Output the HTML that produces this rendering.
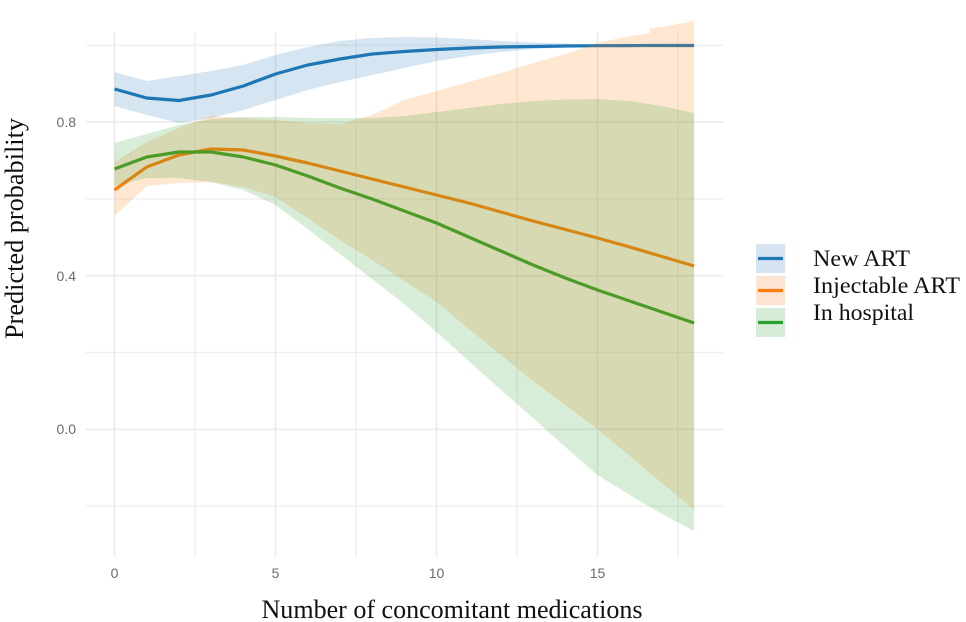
<!DOCTYPE html>
<html>
<head>
<meta charset="utf-8">
<style>
html,body{margin:0;padding:0;background:#fff;}
svg{display:block;}
</style>
</head>
<body>
<svg width="966" height="622" viewBox="0 0 966 622" xmlns="http://www.w3.org/2000/svg">
<rect width="966" height="622" fill="#fff"/>
<!-- minor gridlines -->
<g stroke="#eeeeee" stroke-width="1.3" fill="none">
<line x1="86" y1="506.1" x2="723" y2="506.1"/>
<line x1="86" y1="352.5" x2="723" y2="352.5"/>
<line x1="86" y1="199" x2="723" y2="199"/>
<line x1="86" y1="45.3" x2="723" y2="45.3"/>
<line x1="195" y1="33" x2="195" y2="557"/>
<line x1="356" y1="33" x2="356" y2="557"/>
<line x1="517" y1="33" x2="517" y2="557"/>
<line x1="678" y1="33" x2="678" y2="557"/>
</g>
<!-- major gridlines -->
<g stroke="#ebebeb" stroke-width="1.6" fill="none">
<line x1="86" y1="429.3" x2="723" y2="429.3"/>
<line x1="86" y1="275.7" x2="723" y2="275.7"/>
<line x1="86" y1="122.1" x2="723" y2="122.1"/>
<line x1="114.5" y1="33" x2="114.5" y2="557"/>
<line x1="275.5" y1="33" x2="275.5" y2="557"/>
<line x1="436.5" y1="33" x2="436.5" y2="557"/>
<line x1="597.5" y1="33" x2="597.5" y2="557"/>
</g>

<!-- lines (drawn beneath ribbons) -->
<g fill="none" stroke-width="3.2" stroke-linejoin="round" stroke-linecap="butt">
<polyline stroke="#1f77b4" points="114.5,89 146.7,98 178.9,100.5 211.1,95 243.3,86 275.5,74 307.7,65 339.9,59 372.1,54 404.3,51.5 436.5,49.5 468.7,48 500.9,47 533.1,46.5 565.3,46 597.5,45.7 629.7,45.6 661.9,45.5 694.1,45.5"/>
<polyline stroke="#ff7f0e" points="114.5,190 146.7,167 178.9,155 211.1,149 243.3,150 275.5,156 307.7,163 339.9,171 372.1,179 404.3,187 436.5,195 468.7,203 500.9,212 533.1,221 565.3,229.5 597.5,238 629.7,247 661.9,256.5 694.1,266"/>
<polyline stroke="#2ca02c" points="114.5,169 146.7,157 178.9,152 211.1,152 243.3,157 275.5,165 307.7,176 339.9,188 372.1,199 404.3,211 436.5,223 468.7,237 500.9,251 533.1,265 565.3,278 597.5,290 629.7,301 661.9,312 694.1,323"/>
</g>

<!-- ribbons -->
<g stroke="none">
<polygon fill="#1f77b4" fill-opacity="0.19" points="114.5,72 146.7,81 178.9,76 211.1,71 243.3,65 275.5,55 307.7,47 339.9,41 372.1,38 404.3,37 436.5,37.5 468.7,39 500.9,41 533.1,42.5 565.3,43.5 597.5,44.5 629.7,45 661.9,45 694.1,45 694.1,46 661.9,46 629.7,46 597.5,46.5 565.3,47.5 533.1,49 500.9,52 468.7,56 436.5,61 404.3,68 372.1,75 339.9,82 307.7,90 275.5,100 243.3,110 211.1,118 178.9,123 146.7,115 114.5,106"/>
<polygon fill="#ff7f0e" fill-opacity="0.19" points="114.5,162 146.7,142 178.9,128 211.1,116 243.3,118 275.5,120 307.7,123 339.9,124 372.1,115 404.3,100 436.5,91 468.7,82 500.9,73 533.1,63 565.3,54 597.5,43 629.7,36 650,33 650,28 661.9,27 694.1,21 694.1,510 661.9,483 629.7,456 597.5,429 565.3,405 533.1,381 500.9,355 468.7,329 436.5,302 404.3,281 372.1,260 339.9,240 307.7,218 275.5,197 243.3,187 211.1,182 178.9,183 146.7,186 114.5,216"/>
<polygon fill="#2ca02c" fill-opacity="0.19" points="114.5,143 146.7,134 178.9,125 211.1,119 243.3,117 275.5,117 307.7,118 339.9,118 372.1,118 404.3,116 436.5,112 468.7,108 500.9,104 533.1,101 565.3,99.5 597.5,99 629.7,101 661.9,106 694.1,113 694.1,531 661.9,514 629.7,495 597.5,475 565.3,447 533.1,418 500.9,390 468.7,361 436.5,332 404.3,304 372.1,279 339.9,254 307.7,229 275.5,205 243.3,190 211.1,182 178.9,178 146.7,178 114.5,186"/>
</g>

<!-- y tick labels -->
<g font-family="Liberation Sans, Arial, sans-serif" font-size="14" fill="#6b6b6b" text-anchor="end">
<text x="76" y="127">0.8</text>
<text x="76" y="281">0.4</text>
<text x="76" y="434">0.0</text>
</g>
<!-- x tick labels -->
<g font-family="Liberation Sans, Arial, sans-serif" font-size="14" fill="#6b6b6b" text-anchor="middle">
<text x="114.5" y="578">0</text>
<text x="275.5" y="578">5</text>
<text x="436.5" y="578">10</text>
<text x="597.5" y="578">15</text>
</g>

<!-- axis titles -->
<text x="452" y="618" font-family="Liberation Serif, Times New Roman, serif" font-size="26" fill="#111" text-anchor="middle" textLength="381" lengthAdjust="spacingAndGlyphs">Number of concomitant medications</text>
<text transform="translate(23,228.5) rotate(-90)" x="0" y="0" font-family="Liberation Serif, Times New Roman, serif" font-size="26" fill="#111" text-anchor="middle" textLength="221" lengthAdjust="spacingAndGlyphs">Predicted probability</text>

<!-- legend -->
<rect x="756" y="244" width="29" height="29" fill="#d5e4f0"/>
<rect x="756" y="276" width="29" height="29" fill="#fde3d2"/>
<rect x="756" y="308" width="29" height="29" fill="#d6ecd6"/>
<g stroke-width="3.2">
<line x1="758" y1="258.5" x2="783" y2="258.5" stroke="#1f77b4"/>
<line x1="758" y1="290.5" x2="783" y2="290.5" stroke="#ff7f0e"/>
<line x1="758" y1="322.5" x2="783" y2="322.5" stroke="#2ca02c"/>
</g>
<g font-family="Liberation Serif, Times New Roman, serif" font-size="23.5" fill="#111">
<text x="813" y="266" textLength="97" lengthAdjust="spacingAndGlyphs">New ART</text>
<text x="813" y="293" textLength="147" lengthAdjust="spacingAndGlyphs">Injectable ART</text>
<text x="813" y="320" textLength="101" lengthAdjust="spacingAndGlyphs">In hospital</text>
</g>
</svg>
</body>
</html>
